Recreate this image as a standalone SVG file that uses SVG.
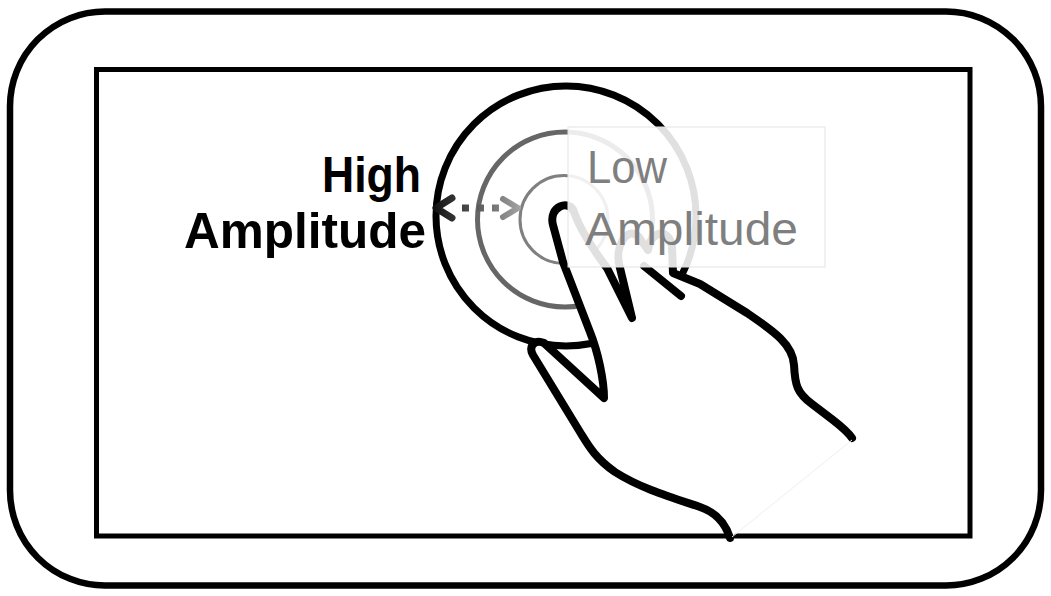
<svg xmlns="http://www.w3.org/2000/svg" width="1051" height="596" viewBox="0 0 1051 596">
  <defs>
    <style>
      .frame { fill: #ffffff; stroke: #000000; stroke-width: 6.5; }
      .screen { fill: #ffffff; stroke: #000000; stroke-width: 5; }
      .ring { fill: none; }
      .hand-fill { fill: #ffffff; stroke: none; }
      .hand-line { fill: none; stroke: #000000; stroke-width: 8; stroke-linecap: round; stroke-linejoin: round; }
      .label-bold { font-family: "Liberation Sans", Arial, sans-serif; font-weight: 700; font-size: 50px; fill: #000000; }
      .label-light { font-family: "Liberation Sans", Arial, sans-serif; font-weight: 400; font-size: 46px; fill: #7f7f7f; }
    </style>
    <linearGradient id="arrowShade" gradientUnits="userSpaceOnUse" x1="434" y1="0" x2="522" y2="0">
      <stop offset="0" stop-color="#111111"/>
      <stop offset="1" stop-color="#a6a6a6"/>
    </linearGradient>
  </defs>

  <!-- device body -->
  <g id="device">
    <rect class="frame" x="10" y="11.5" width="1031" height="574" rx="95" ry="95"/>
  </g>

  <!-- display area -->
  <g id="screen">
    <rect class="screen" x="96.5" y="69.5" width="873.5" height="466.5"/>
  </g>

  <!-- amplitude rings around the touch point -->
  <g id="rings">
    <circle class="ring" cx="566" cy="216" r="130" stroke="#000000" stroke-width="7"/>
    <circle class="ring" cx="565" cy="219.5" r="87.5" stroke="#666666" stroke-width="5"/>
    <circle class="ring" cx="564" cy="219.5" r="44" stroke="#808080" stroke-width="3"/>
  </g>

  <!-- dotted double arrow between the outer and inner ring -->
  <g id="connectors">
    <line x1="462" y1="208" x2="505" y2="208" stroke="url(#arrowShade)" stroke-width="7" stroke-dasharray="7 8"/>
    <polyline points="452,198 436,208 452,218" fill="none" stroke="url(#arrowShade)" stroke-width="7" stroke-linecap="round" stroke-linejoin="round"/>
    <polyline points="503,199 518,208 503,217" fill="none" stroke="url(#arrowShade)" stroke-width="6" stroke-linecap="round" stroke-linejoin="round"/>
  </g>

  <!-- pointing hand -->
  <g id="hand">
    <path class="hand-fill" d="M 730 538 C 725 522, 715 512, 700 507 C 670 497, 640 488, 615 472 C 595 458, 588 445, 580 432 L 533 355 C 528 346, 535 339, 544 343 L 604 398 C 604 380, 598 352, 590 332 L 563 262 L 553 225 C 548 206, 570 199, 574 212 C 581 232, 595 252, 607 268 L 632 318 L 620 268 C 614 248, 626 226, 638 236 L 648 250 C 650 232, 668 226, 672 246 L 673 273 L 700 284 L 747 313 C 775 332, 793 345, 794 365 C 795 385, 797 393, 812 404 L 833 420 C 842 427, 848 432, 852 438 Z"/>
    <path class="hand-line" d="M 730 538 C 725 522, 715 512, 700 507 C 670 497, 640 488, 615 472 C 595 458, 588 445, 580 432 L 533 355 C 528 346, 535 339, 544 343 L 604 398 C 604 380, 598 352, 590 332 L 563 262 L 553 225 C 548 206, 570 199, 574 212 C 581 232, 595 252, 607 268 L 632 318 L 620 268 C 614 248, 626 226, 638 236 L 648 250 C 650 232, 668 226, 672 246 L 673 273 L 700 284 L 747 313 C 775 332, 793 345, 794 365 C 795 385, 797 393, 812 404 L 833 420 C 842 427, 848 432, 852 438"/>
    <path class="hand-line" d="M 644 266 L 681 296" stroke-linecap="butt"/>
    <line x1="852" y1="440" x2="732" y2="537" stroke="#eeeeee" stroke-width="1"/>
  </g>

  <!-- label at the outer ring -->
  <g id="label-high">
    <text class="label-bold" x="322" y="192" textLength="99" lengthAdjust="spacingAndGlyphs">High</text>
    <text class="label-bold" x="184" y="248" textLength="242" lengthAdjust="spacingAndGlyphs">Amplitude</text>
  </g>

  <!-- label panel at the inner ring -->
  <g id="label-low">
    <rect x="568" y="127" width="257" height="140" fill="#ffffff" fill-opacity="0.88" stroke="#e3e3e3" stroke-width="1"/>
    <text class="label-light" x="587" y="183" textLength="80" lengthAdjust="spacingAndGlyphs">Low</text>
    <text class="label-light" x="585" y="245" textLength="213" lengthAdjust="spacingAndGlyphs">Amplitude</text>
  </g>
</svg>
